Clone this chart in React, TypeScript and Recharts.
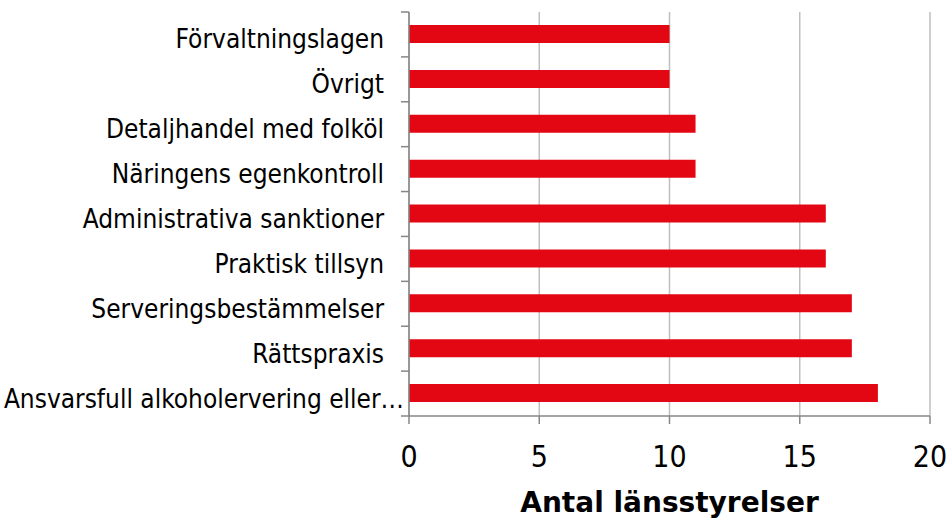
import React from "react";
import { BarChart, Bar, XAxis, YAxis, CartesianGrid, Label } from "recharts";

const categories = [
  "Förvaltningslagen",
  "Övrigt",
  "Detaljhandel med folköl",
  "Näringens egenkontroll",
  "Administrativa sanktioner",
  "Praktisk tillsyn",
  "Serveringsbestämmelser",
  "Rättspraxis",
  "Ansvarsfull alkoholervering eller…",
];
const counts = [10, 10, 11, 11, 16, 16, 17, 17, 18];
const xTicks = [0, 5, 10, 15, 20];
const axisTitle = "Antal länsstyrelser";

const data = categories.map((name, i) => ({ name, value: counts[i] }));

const FONT = "'DejaVu Sans Condensed', 'Liberation Sans', sans-serif";
const WIDTH = 952;
const HEIGHT = 525;
const MARGIN = { top: 12, right: 22, bottom: 0, left: 0 };
const X_AXIS_HEIGHT = 109;
const Y_AXIS_WIDTH = 409;
const BAND = (HEIGHT - MARGIN.top - MARGIN.bottom - X_AXIS_HEIGHT) / categories.length;

// category label plus a tick mark on the band boundary (like Excel)
const CategoryTick = (props: any) => {
  const { x, y, payload, index } = props;
  const axisX = Y_AXIS_WIDTH;
  // truncated labels in the original run up close to the axis
  const textX = String(payload.value).endsWith("…") ? axisX - 5 : x;
  return (
    <g>
      <line x1={axisX - 8} x2={axisX} y1={y - BAND / 2} y2={y - BAND / 2} stroke='#868686' strokeWidth={1.5} />
      {index === categories.length - 1 && (
        <line x1={axisX - 8} x2={axisX} y1={y + BAND / 2} y2={y + BAND / 2} stroke='#868686' strokeWidth={1.5} />
      )}
      <text x={textX} y={y} dy={14} textAnchor='end' fill='#000' fontSize={26} fontFamily={FONT}>
        {payload.value}
      </text>
    </g>
  );
};

const App: React.FC = () => {
  return (
    <div style={{ position: "fixed", left: 0, top: 0, width: WIDTH, height: HEIGHT, background: "#fff" }}>
      <BarChart
        width={WIDTH}
        height={HEIGHT}
        data={data}
        layout='vertical'
        margin={MARGIN}
        barCategoryGap={0}>
        <CartesianGrid horizontal={false} stroke='#bfbfbf' strokeWidth={1.5} />
        <XAxis
          type='number'
          domain={[0, 20]}
          ticks={xTicks}
          interval={0}
          height={X_AXIS_HEIGHT}
          stroke='#868686'
          strokeWidth={1.5}
          tickSize={8}
          tickMargin={22}
          tick={{ fill: "#000", fontSize: 30, fontFamily: FONT }}>
          <Label
            value={axisTitle}
            position='insideBottom'
            offset={13}
            style={{ fill: "#000", fontSize: 28, fontWeight: "bold", fontFamily: "'DejaVu Sans', sans-serif" }}
          />
        </XAxis>
        <YAxis
          type='category'
          dataKey='name'
          width={Y_AXIS_WIDTH}
          stroke='#868686'
          strokeWidth={1.5}
          tickLine={false}
          tickSize={8}
          tickMargin={17}
          interval={0}
          tick={<CategoryTick />}
        />
        <Bar dataKey='value' fill='#e30613' barSize={18} isAnimationActive={false} />
      </BarChart>
    </div>
  );
};

export default App;
